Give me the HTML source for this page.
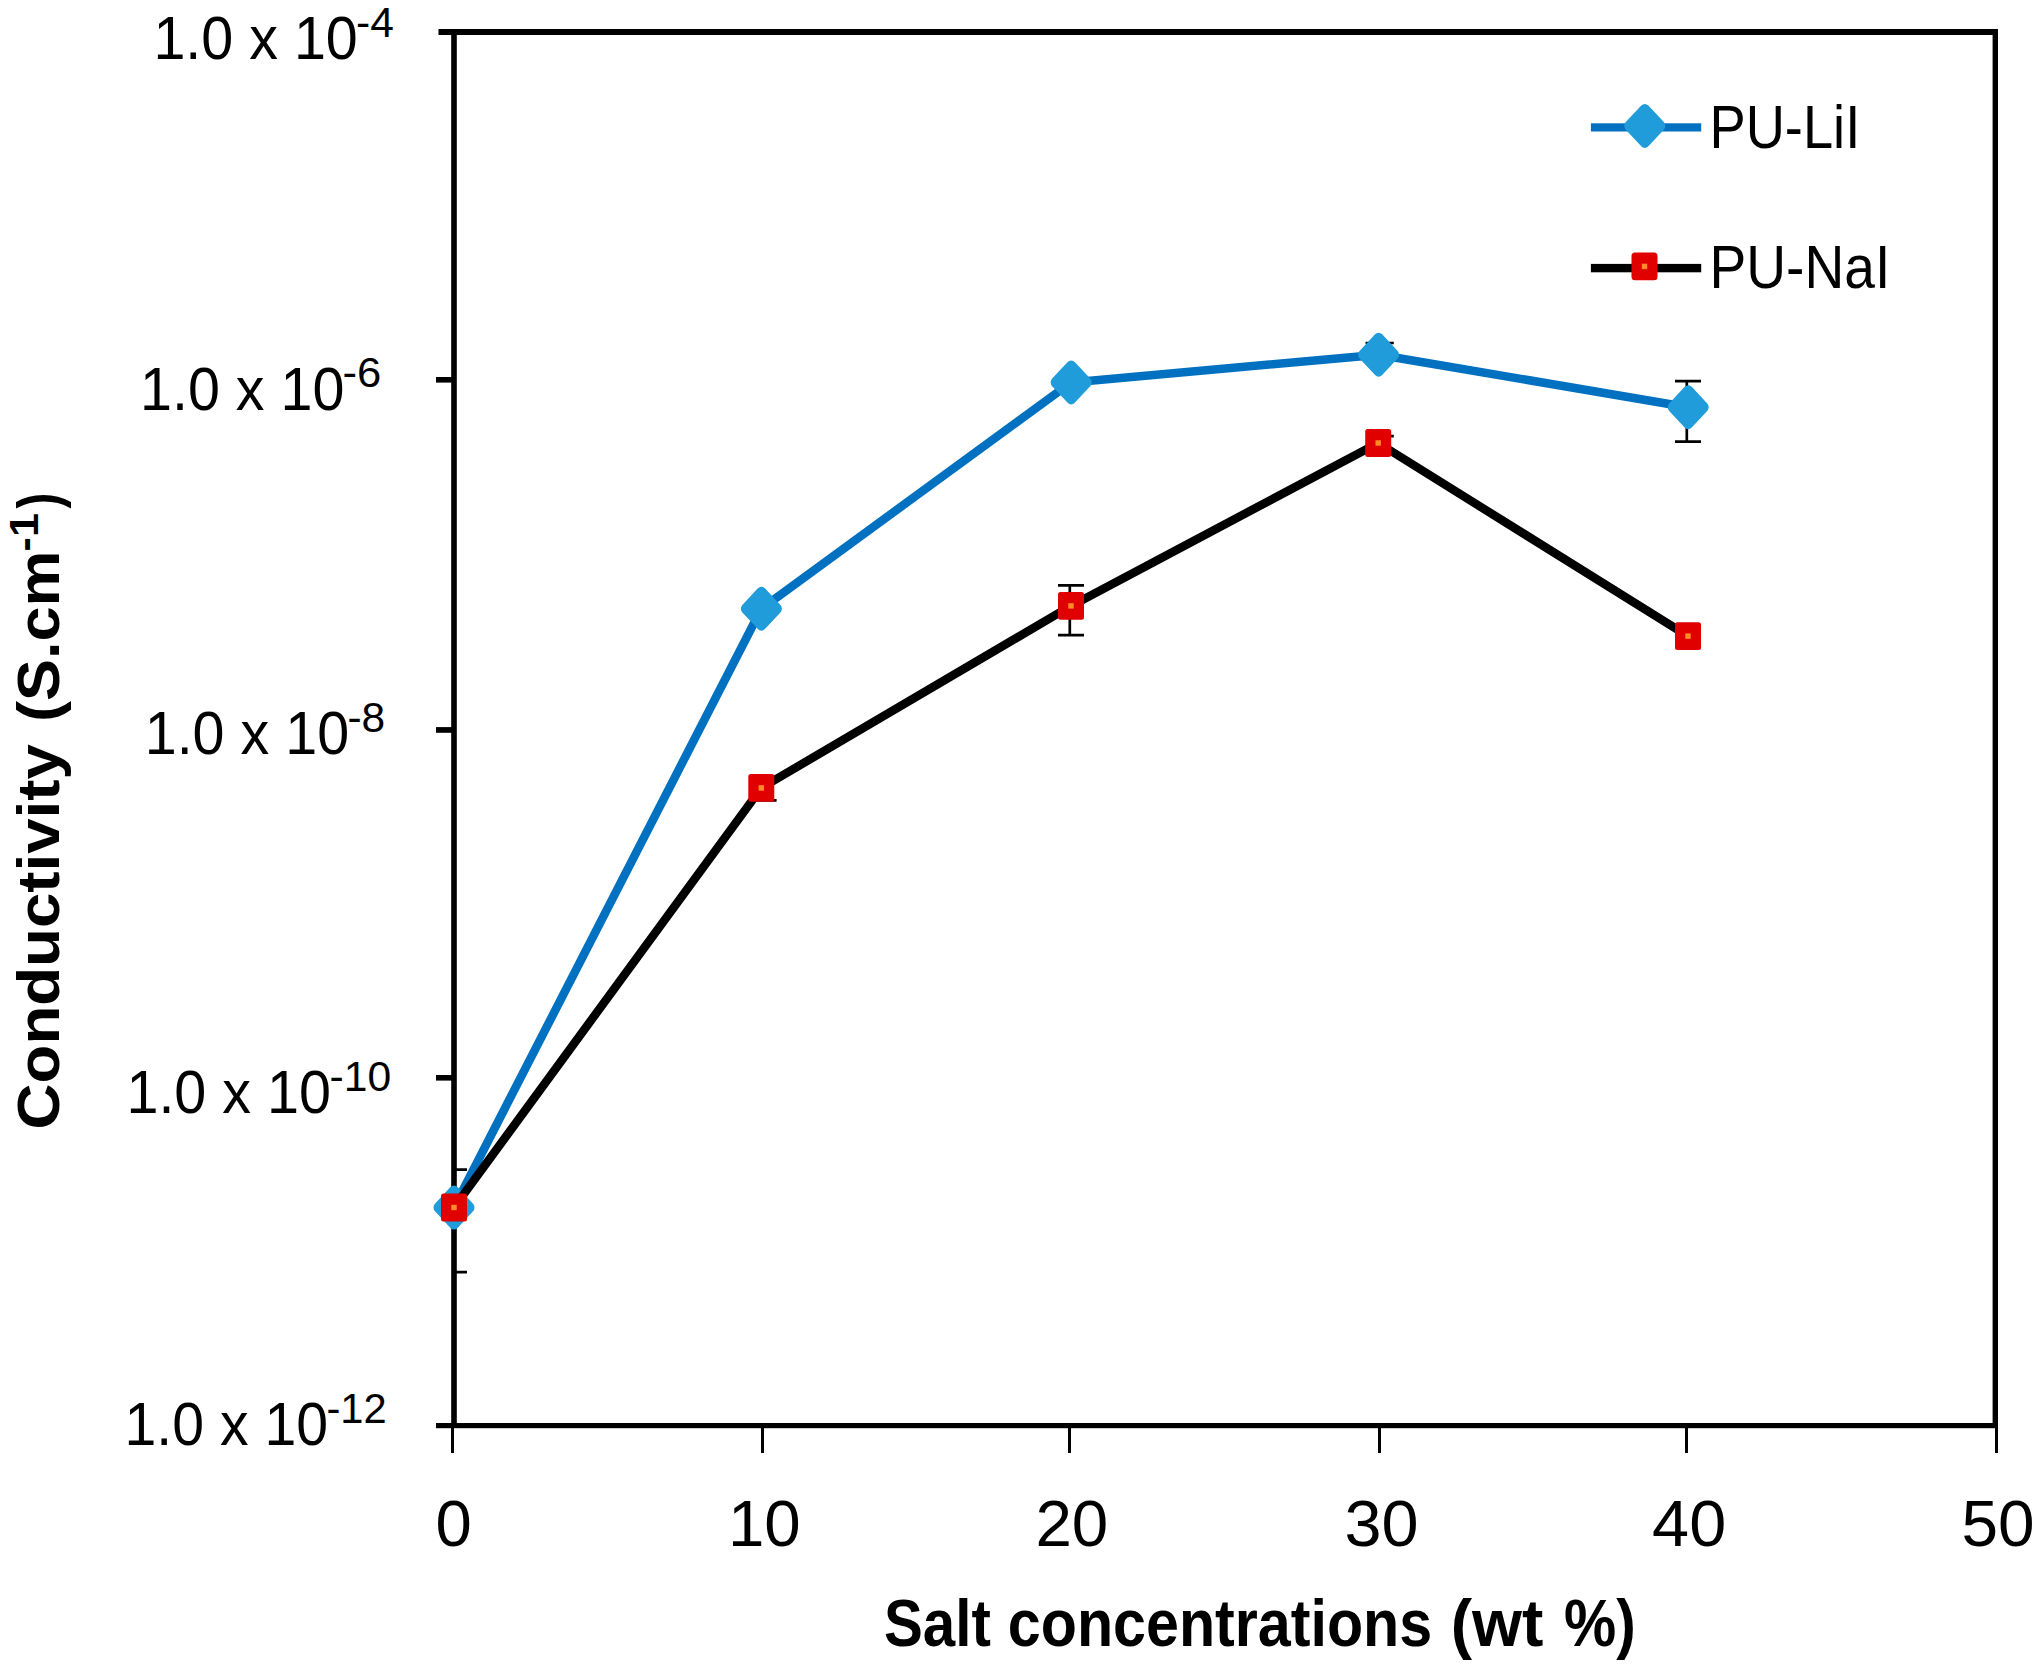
<!DOCTYPE html>
<html lang="en"><head><meta charset="utf-8"><title>Conductivity vs salt concentration</title>
<style>
html,body{margin:0;padding:0;background:#fff}
body{width:2040px;height:1667px;overflow:hidden}
svg{display:block}
.t{font-family:"Liberation Sans", sans-serif;fill:#000}
</style></head><body>
<svg width="2040" height="1667" viewBox="0 0 2040 1667">
<rect width="2040" height="1667" fill="#fff"/>
<g fill="#000">
<rect x="438.5" y="29" width="1559.5" height="6"/>
<rect x="451.2" y="29" width="5.6" height="1399"/>
<rect x="1992.6" y="29" width="5.4" height="1399"/>
<rect x="436" y="1423" width="1562" height="5.2"/>
<rect x="436" y="377" width="16" height="5.6"/>
<rect x="436" y="727.1" width="16" height="5.7"/>
<rect x="436" y="1075" width="16" height="5.6"/>
<rect x="451" y="1426" width="3" height="27"/>
<rect x="761" y="1426" width="3" height="27"/>
<rect x="1068" y="1426" width="3" height="27"/>
<rect x="1378" y="1426" width="3" height="27"/>
<rect x="1685" y="1426" width="3" height="27"/>
<rect x="1995" y="1426" width="3" height="27"/>
</g>
<clipPath id="pc"><rect x="454" y="32" width="1542" height="1394"/></clipPath>
<g clip-path="url(#pc)"><path d="M441.0 1169.7H467.0M441.0 1272.2H467.0M452.8 1169.7V1272.2" stroke="#000" stroke-width="2.7" fill="none"/></g>
<polyline points="454,1207.5 761.4,608.7 1071.2,382.4 1378.6,354.7 1688.2,407.2" fill="none" stroke="#0070c0" stroke-width="8.5" stroke-linejoin="round"/>
<path d="M1365.6 343.0H1393.8M1365.6 360H1393.8M1378.5 343.0V360" stroke="#000" stroke-width="2.7" fill="none"/>
<path d="M1675.0 381.2H1701.0M1675.0 441.7H1701.0M1686.8 381.2V441.7" stroke="#000" stroke-width="2.7" fill="none"/>
<rect x="-15.96" y="-15.96" width="31.92" height="31.92" rx="5" fill="#1f9cd9" transform="translate(454 1207.5) scale(1 1.073) rotate(45)"/>
<rect x="-15.96" y="-15.96" width="31.92" height="31.92" rx="5" fill="#1f9cd9" transform="translate(761.4 608.7) scale(1 1.073) rotate(45)"/>
<rect x="-15.96" y="-15.96" width="31.92" height="31.92" rx="5" fill="#1f9cd9" transform="translate(1071.2 382.4) scale(1 1.073) rotate(45)"/>
<rect x="-15.96" y="-15.96" width="31.92" height="31.92" rx="5" fill="#1f9cd9" transform="translate(1378.6 354.7) scale(1 1.073) rotate(45)"/>
<rect x="-15.96" y="-15.96" width="31.92" height="31.92" rx="5" fill="#1f9cd9" transform="translate(1688.2 407.2) scale(1 1.073) rotate(45)"/>
<polyline points="454,1207.5 761.3,787.9 1071,605.9 1378.2,443 1688,636.1" fill="none" stroke="#000" stroke-width="8.5" stroke-linejoin="round"/>
<path d="M749.6 778H776.6M749.6 800.3H776.6M761.9 778V800.3" stroke="#000" stroke-width="2.7" fill="none"/>
<path d="M1058.0 585.4H1084.0M1058.0 635.1H1084.0M1069.8 585.4V635.1" stroke="#000" stroke-width="2.7" fill="none"/>
<path d="M1366.8 436.2H1393.8M1366.8 450H1393.8M1379.1 436.2V450" stroke="#000" stroke-width="2.7" fill="none"/>
<rect x="441.0" y="1193.6" width="26" height="27.8" rx="2.5" fill="#e00000"/>
<rect x="451.3" y="1204.8" width="5.4" height="5.4" fill="#ff8c28"/>
<rect x="748.3" y="774.0" width="26" height="27.8" rx="2.5" fill="#e00000"/>
<rect x="758.6" y="785.2" width="5.4" height="5.4" fill="#ff8c28"/>
<rect x="1058.0" y="592.0" width="26" height="27.8" rx="2.5" fill="#e00000"/>
<rect x="1068.3" y="603.2" width="5.4" height="5.4" fill="#ff8c28"/>
<rect x="1365.2" y="429.1" width="26" height="27.8" rx="2.5" fill="#e00000"/>
<rect x="1375.5" y="440.3" width="5.4" height="5.4" fill="#ff8c28"/>
<rect x="1675.0" y="622.2" width="26" height="27.8" rx="2.5" fill="#e00000"/>
<rect x="1685.3" y="633.4" width="5.4" height="5.4" fill="#ff8c28"/>
<rect x="1590.9" y="123.3" width="110.3" height="8.2" fill="#0070c0"/>
<rect x="-15.96" y="-15.96" width="31.92" height="31.92" rx="5" fill="#1f9cd9" transform="translate(1644.8 125.9) scale(1 1.073) rotate(45)"/>
<rect x="1590.9" y="263.9" width="110.3" height="8.4" fill="#000"/>
<rect x="1631.5" y="252.5" width="26" height="27.8" rx="3.5" fill="#e00000"/>
<rect x="1641.8" y="263.7" width="5.4" height="5.4" fill="#ff8c28"/>
<g>
<text><tspan class="t" id="y4" x="153.4" y="59.4" style="font-size:62px;font-weight:400" textLength="204.4" lengthAdjust="spacingAndGlyphs">1.0 x 10</tspan><tspan class="t" id="y4s" x="356" y="37.4" style="font-size:43px;font-weight:400" textLength="37.8" lengthAdjust="spacingAndGlyphs">-4</tspan></text>
<text><tspan class="t" id="y6" x="140" y="409.6" style="font-size:62px;font-weight:400" textLength="204.4" lengthAdjust="spacingAndGlyphs">1.0 x 10</tspan><tspan class="t" id="y6s" x="342.6" y="387.4" style="font-size:43px;font-weight:400" textLength="38.8" lengthAdjust="spacingAndGlyphs">-6</tspan></text>
<text><tspan class="t" id="y8" x="144.7" y="754.2" style="font-size:62px;font-weight:400" textLength="204.4" lengthAdjust="spacingAndGlyphs">1.0 x 10</tspan><tspan class="t" id="y8s" x="347.5" y="732.3" style="font-size:43px;font-weight:400" textLength="37.7" lengthAdjust="spacingAndGlyphs">-8</tspan></text>
<text><tspan class="t" id="y10" x="126.4" y="1113" style="font-size:62px;font-weight:400" textLength="204.7" lengthAdjust="spacingAndGlyphs">1.0 x 10</tspan><tspan class="t" id="y10s" x="329.5" y="1091.2" style="font-size:43px;font-weight:400" textLength="61.7" lengthAdjust="spacingAndGlyphs">-10</tspan></text>
<text><tspan class="t" id="y12" x="124.5" y="1444.5" style="font-size:62px;font-weight:400" textLength="203.6" lengthAdjust="spacingAndGlyphs">1.0 x 10</tspan><tspan class="t" id="y12s" x="326.5" y="1422.9" style="font-size:43px;font-weight:400" textLength="60.2" lengthAdjust="spacingAndGlyphs">-12</tspan></text>
<text><tspan class="t" id="x0" x="435.6" y="1546.2" style="font-size:65px;font-weight:400" textLength="36.3" lengthAdjust="spacingAndGlyphs">0</tspan></text>
<text><tspan class="t" id="x10" x="727.9" y="1546.2" style="font-size:65px;font-weight:400" textLength="72.8" lengthAdjust="spacingAndGlyphs">10</tspan></text>
<text><tspan class="t" id="x20" x="1035.4" y="1546.2" style="font-size:65px;font-weight:400" textLength="72.9" lengthAdjust="spacingAndGlyphs">20</tspan></text>
<text><tspan class="t" id="x30" x="1344.5" y="1546.2" style="font-size:65px;font-weight:400" textLength="74.1" lengthAdjust="spacingAndGlyphs">30</tspan></text>
<text><tspan class="t" id="x40" x="1652.1" y="1546.2" style="font-size:65px;font-weight:400" textLength="74.1" lengthAdjust="spacingAndGlyphs">40</tspan></text>
<text><tspan class="t" id="x50" x="1961.5" y="1546.2" style="font-size:65px;font-weight:400" textLength="73.1" lengthAdjust="spacingAndGlyphs">50</tspan></text>
<text><tspan class="t" id="xt1" x="883.9" y="1645.7" style="font-size:66px;font-weight:700" textLength="106.9" lengthAdjust="spacingAndGlyphs">Salt</tspan> <tspan class="t" id="xt2" x="1007.8" y="1645.7" style="font-size:66px;font-weight:700" textLength="424.4" lengthAdjust="spacingAndGlyphs">concentrations</tspan> <tspan class="t" id="xt3" x="1450.7" y="1645.7" style="font-size:66px;font-weight:700" textLength="92.6" lengthAdjust="spacingAndGlyphs">(wt</tspan> <tspan class="t" id="xt4" x="1564.1" y="1645.7" style="font-size:66px;font-weight:700" textLength="71.8" lengthAdjust="spacingAndGlyphs">%)</tspan></text>
<text><tspan class="t" id="l1" x="1709.5" y="147.6" style="font-size:60.5px;font-weight:400" textLength="150.7" lengthAdjust="spacingAndGlyphs">PU-LiI</tspan></text>
<text><tspan class="t" id="l2" x="1709.5" y="288.2" style="font-size:60.5px;font-weight:400" textLength="180.7" lengthAdjust="spacingAndGlyphs">PU-NaI</tspan></text>
<text transform="rotate(-90)"><tspan class="t" id="yt1" x="-1129.4" y="58.5" style="font-size:59px;font-weight:700" textLength="385.2" lengthAdjust="spacingAndGlyphs">Conductivity</tspan> <tspan class="t" id="yt2" x="-721.9" y="58.5" style="font-size:59px;font-weight:700" textLength="171.4" lengthAdjust="spacingAndGlyphs">(S.cm</tspan><tspan class="t" id="yt3" x="-551.4" y="37.5" style="font-size:40px;font-weight:700" textLength="38.2" lengthAdjust="spacingAndGlyphs">-1</tspan><tspan class="t" id="yt4" x="-508.5" y="58.5" style="font-size:59px;font-weight:700" textLength="15.8" lengthAdjust="spacingAndGlyphs">)</tspan></text>
</g>
</svg>
</body></html>
